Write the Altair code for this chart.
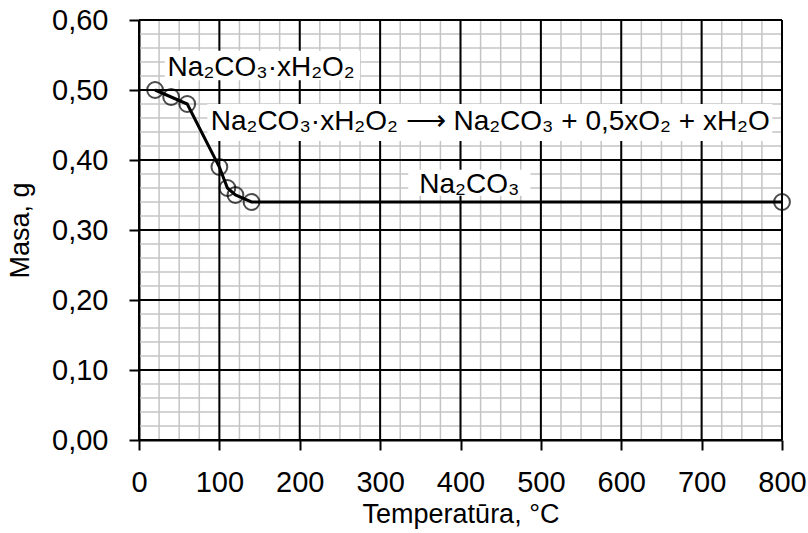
import altair as alt
import pandas as pd

# --- data ---
temp = [20, 40, 60, 100, 110, 120, 140, 800]
mass = [0.50, 0.49, 0.48, 0.39, 0.36, 0.35, 0.34, 0.34]

# annotations (text, anchor x/y in data units)
ann_text = ["Na₂CO₃·xH₂O₂", "Na₂CO₃·xH₂O₂ ⟶ Na₂CO₃ + 0,5xO₂ + xH₂O", "Na₂CO₃"]
ann_x = [152, 437, 411]
ann_y = [0.532, 0.4536, 0.364]
# white label boxes (data units)
box_x1 = [32, 85, 335]
box_x2 = [275, 788, 487]
box_y1 = [0.514, 0.427, 0.349]
box_y2 = [0.556, 0.480, 0.386]

x_major = list(range(0, 801, 100))
x_minor = list(range(0, 801, 25))
y_major = [0.0, 0.1, 0.2, 0.3, 0.4, 0.5, 0.6]
y_minor = [round(i * 0.02, 2) for i in range(31)]

FONT = "Liberation Sans"

xs = alt.Scale(domain=[0, 800], nice=False, zero=True)
ys = alt.Scale(domain=[0, 0.6], nice=False, zero=True)

X_AX = alt.Axis(title="Temperatūra, °C", values=x_major, grid=False,
                domainColor="black", domainWidth=2, tickColor="black",
                tickWidth=2, tickSize=10, labelFont=FONT, labelFontSize=29,
                labelColor="black", labelPadding=18, labelFlush=False,
                titleFont=FONT, titleFontSize=27, titleFontWeight="normal",
                titleColor="black", titlePadding=4)
Y_AX = alt.Axis(title="Masa, g", values=y_major, grid=False,
                labelExpr="replace(format(datum.value, '.2f'), '.', ',')",
                domainColor="black", domainWidth=2, tickColor="black",
                tickWidth=2, tickSize=10, labelFont=FONT, labelFontSize=29,
                labelColor="black", labelPadding=21,
                titleFont=FONT, titleFontSize=27, titleFontWeight="normal",
                titleColor="black", titlePadding=17)

df = pd.DataFrame({"t": temp, "m": mass})
ann = pd.DataFrame({"txt": ann_text, "x": ann_x, "y": ann_y})
boxes = pd.DataFrame({"x1": box_x1, "x2": box_x2, "y1": box_y1, "y2": box_y2})

vminor = alt.Chart(pd.DataFrame({"v": x_minor})).mark_rule(color="#c4c4c4", strokeWidth=1.5).encode(
    x=alt.X("v:Q", scale=xs, axis=X_AX))
hminor = alt.Chart(pd.DataFrame({"v": y_minor})).mark_rule(color="#c4c4c4", strokeWidth=1.5).encode(
    y=alt.Y("v:Q", scale=ys, axis=Y_AX))
vmajor = alt.Chart(pd.DataFrame({"v": x_major})).mark_rule(color="black", strokeWidth=2).encode(
    x=alt.X("v:Q", scale=xs, axis=X_AX))
hmajor = alt.Chart(pd.DataFrame({"v": y_major})).mark_rule(color="black", strokeWidth=2).encode(
    y=alt.Y("v:Q", scale=ys, axis=Y_AX))

rects = alt.Chart(boxes).mark_rect(color="white").encode(
    x=alt.X("x1:Q", scale=xs, axis=X_AX), x2="x2:Q",
    y=alt.Y("y1:Q", scale=ys, axis=Y_AX), y2="y2:Q")

line = alt.Chart(df).mark_line(color="black", strokeWidth=3).encode(
    x=alt.X("t:Q", scale=xs, axis=X_AX),
    y=alt.Y("m:Q", scale=ys, axis=Y_AX))

points = alt.Chart(df).mark_point(shape="circle", size=250, color="black", filled=False,
                                   strokeWidth=2).encode(
    x=alt.X("t:Q", scale=xs, axis=X_AX), y=alt.Y("m:Q", scale=ys, axis=Y_AX))

texts = alt.Chart(ann).mark_text(font=FONT, fontSize=28, color="black", align="center",
                                 baseline="middle").encode(
    x=alt.X("x:Q", scale=xs, axis=X_AX), y=alt.Y("y:Q", scale=ys, axis=Y_AX), text="txt:N")

chart = alt.layer(vminor, hminor, vmajor, hmajor, rects, line, points, texts).properties(
    width=643, height=420,
    autosize=alt.AutoSizeParams(type="none"),
    padding={"left": 139, "top": 20, "right": 26, "bottom": 93},
    background="white",
).configure_view(strokeWidth=0)

chart.save("out.html", embed_options={"renderer": "svg", "actions": False})
